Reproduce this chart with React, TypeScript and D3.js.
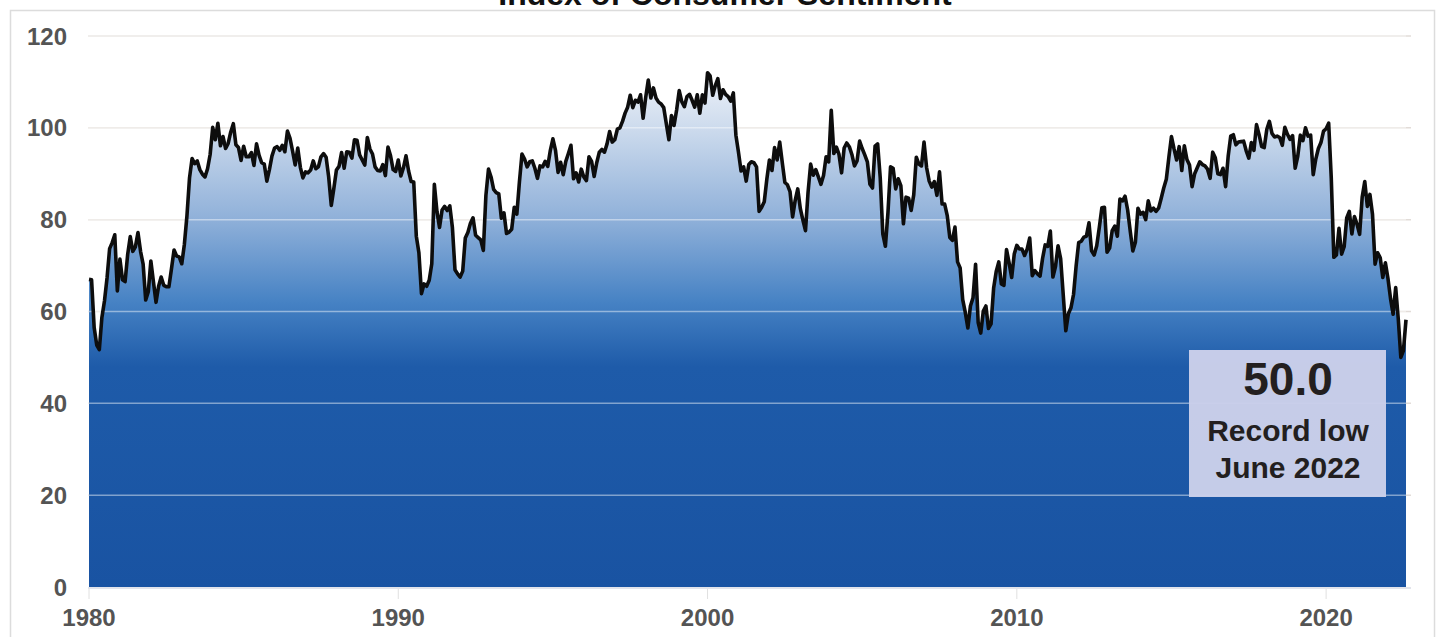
import { useEffect, useRef } from "react";
import * as d3 from "d3";

// Monthly index values, Jan of the first year through the last month shown
const sent1980s = [
  67.0, 66.9, 56.5, 52.7, 51.7, 58.7, 62.3, 67.3, 73.7, 75.0, 76.7, 64.5,
  71.4, 66.9, 66.5, 72.4, 76.3, 73.1, 74.1, 77.2, 73.1, 70.3, 62.5, 64.3,
  71.0, 66.5, 62.0, 65.5, 67.5, 65.7, 65.4, 65.4, 69.3, 73.4, 72.1, 71.9,
  70.4, 74.6, 80.8, 89.1, 93.3, 92.2, 92.8, 90.9, 89.9, 89.3, 91.1, 94.2,
  100.1, 97.4, 101.0, 96.1, 98.1, 95.5, 96.6, 99.1, 100.9, 96.3, 95.7, 92.9,
  96.0, 93.7, 93.7, 94.6, 91.8, 96.5, 94.0, 92.4, 92.1, 88.4, 90.9, 93.9,
  95.6, 95.9, 95.1, 96.2, 94.8, 99.3, 97.7, 94.9, 91.9, 95.6, 91.4, 89.1,
  90.4, 90.2, 90.8, 92.8, 91.1, 91.5, 93.7, 94.4, 93.6, 89.3, 83.1, 86.8,
  90.8, 91.6, 94.6, 91.2, 94.8, 94.7, 93.4, 97.4, 97.3, 94.1, 93.0, 91.9,
  97.9, 95.4, 94.3, 91.5, 90.7, 90.6, 92.0, 89.6, 95.8, 93.9, 90.9, 90.5,
];
const sent1990s = [
  93.0, 89.5, 91.3, 93.9, 90.6, 88.3, 88.2, 76.4, 72.8, 63.9, 66.0, 65.5,
  66.8, 70.4, 87.7, 81.8, 78.3, 82.1, 82.9, 82.0, 83.0, 78.3, 69.1, 68.2,
  67.5, 68.8, 76.0, 77.2, 79.2, 80.4, 76.6, 76.1, 75.6, 73.3, 85.3, 91.0,
  89.3, 86.6, 85.9, 85.6, 80.3, 81.5, 77.0, 77.3, 77.9, 82.7, 81.2, 88.2,
  94.3, 93.2, 91.5, 92.6, 92.8, 91.2, 89.0, 91.7, 91.5, 92.7, 91.6, 95.1,
  97.6, 95.1, 90.3, 92.5, 89.8, 92.7, 94.4, 96.2, 88.9, 90.2, 88.2, 91.0,
  89.3, 88.5, 93.7, 92.7, 89.4, 92.4, 94.7, 95.3, 94.7, 96.5, 99.2, 96.9,
  97.4, 99.7, 100.0, 101.4, 103.2, 104.5, 107.1, 104.4, 106.0, 105.6, 107.2, 102.1,
  106.6, 110.4, 106.5, 108.7, 106.5, 105.6, 105.2, 104.4, 100.9, 97.4, 102.7, 100.5,
  103.9, 108.1, 105.7, 104.6, 106.8, 107.3, 106.0, 104.5, 107.2, 103.2, 107.2, 105.4,
];
const sent2000s = [
  112.0, 111.3, 107.1, 109.2, 110.7, 106.4, 108.3, 107.3, 106.8, 105.8, 107.6, 98.4,
  94.7, 90.6, 91.5, 88.4, 92.0, 92.6, 92.4, 91.5, 81.8, 82.7, 83.9, 88.8,
  93.0, 90.7, 95.7, 93.0, 96.9, 92.4, 88.1, 87.6, 86.1, 80.6, 84.2, 86.7,
  82.4, 79.9, 77.6, 86.0, 92.1, 89.7, 90.9, 89.3, 87.7, 89.6, 93.7, 92.6,
  103.8, 94.4, 95.8, 94.2, 90.2, 95.6, 96.7, 95.9, 94.2, 91.7, 92.8, 97.1,
  95.5, 94.1, 92.6, 87.7, 86.9, 96.0, 96.5, 89.1, 76.9, 74.2, 81.6, 91.5,
  91.2, 86.7, 88.9, 87.4, 79.1, 84.9, 84.7, 82.0, 85.4, 93.6, 92.1, 91.7,
  96.9, 91.3, 88.4, 87.1, 88.3, 85.3, 90.4, 83.4, 83.4, 80.9, 76.1, 75.5,
  78.4, 70.8, 69.5, 62.6, 59.8, 56.4, 61.2, 63.0, 70.3, 57.6, 55.3, 60.1,
  61.2, 56.3, 57.3, 65.1, 68.7, 70.8, 66.0, 65.7, 73.5, 70.6, 67.4, 72.5,
];
const sent2010s = [
  74.4, 73.6, 73.6, 72.2, 73.6, 76.0, 67.8, 68.9, 68.2, 67.7, 71.6, 74.5,
  74.2, 77.5, 67.5, 69.8, 74.3, 71.5, 63.7, 55.8, 59.5, 60.8, 63.7, 69.9,
  75.0, 75.3, 76.2, 76.4, 79.3, 73.2, 72.3, 74.3, 78.3, 82.6, 82.7, 72.9,
  73.8, 77.6, 78.6, 76.4, 84.5, 84.1, 85.1, 82.1, 77.5, 73.2, 75.1, 82.5,
  81.2, 81.6, 80.0, 84.1, 81.9, 82.5, 81.8, 82.5, 84.6, 86.9, 88.8, 93.6,
  98.1, 95.4, 93.0, 95.9, 90.7, 96.1, 93.1, 91.9, 87.2, 90.0, 91.3, 92.6,
  92.0, 91.7, 91.0, 89.0, 94.7, 93.5, 90.0, 89.8, 91.2, 87.2, 93.8, 98.2,
  98.5, 96.3, 96.9, 97.0, 97.1, 95.0, 93.4, 96.8, 95.1, 100.7, 98.5, 95.9,
  95.7, 99.7, 101.4, 98.8, 98.0, 98.2, 97.9, 96.2, 100.1, 98.6, 97.5, 98.3,
  91.2, 93.8, 98.4, 97.2, 100.0, 98.2, 98.4, 89.8, 93.2, 95.5, 96.8, 99.3,
];
const sent2020s = [
  99.8, 101.0, 89.1, 71.8, 72.3, 78.1, 72.5, 74.1, 80.4, 81.8, 76.9, 80.7,
  79.0, 76.8, 84.9, 88.3, 82.9, 85.5, 81.2, 70.3, 72.8, 71.7, 67.4, 70.6,
  67.2, 62.8, 59.4, 65.2, 58.4, 50.0, 51.5, 58.2,
];

const startYear = 1980;
const yTicks = [0, 20, 40, 60, 80, 100, 120];
const xTicks = [1980, 1990, 2000, 2010, 2020];
const title = "Index of Consumer Sentiment";
const noteValue = "50.0";
const noteLines = ["Record low", "June 2022"];

const W = 1439;
const H = 637;

export default function App() {
  const svgRef = useRef<SVGSVGElement>(null);

  useEffect(() => {
    if (!svgRef.current) return;
    const svg = d3.select(svgRef.current);
    svg.selectAll("*").remove();

    const values = [...sent1980s, ...sent1990s, ...sent2000s, ...sent2010s, ...sent2020s];
    const data = values.map((v, i) => ({ t: startYear + i / 12, v }));
    const lastT = data[data.length - 1].t;

    const x = d3.scaleLinear().domain([startYear, lastT]).range([89, 1406]);
    const y = d3.scaleLinear().domain([0, 120]).range([587, 36]);
    const gridX0 = 88;
    const gridX1 = 1411;

    const font = "'Liberation Sans', Arial, sans-serif";

    // outer frame
    svg.append("rect")
      .attr("x", 10.5).attr("y", 10.5)
      .attr("width", 1424).attr("height", 640)
      .attr("fill", "#fff")
      .attr("stroke", "#dcdcdc")
      .attr("stroke-width", 1.5);

    // title (cut by the top edge like the source)
    svg.append("text")
      .attr("x", 725).attr("y", 5)
      .attr("text-anchor", "middle")
      .attr("font-family", font)
      .attr("font-weight", "bold")
      .attr("font-size", 32)
      .attr("fill", "#111")
      .text(title);

    // gridlines under the fill
    svg.append("g")
      .selectAll("line")
      .data(yTicks.filter(d => d > 0))
      .join("line")
      .attr("x1", gridX0).attr("x2", gridX1)
      .attr("y1", d => y(d)).attr("y2", d => y(d))
      .attr("stroke", "#e2dcd8")
      .attr("stroke-width", 1.5);

    // gradient fill
    const defs = svg.append("defs");
    const grad = defs.append("linearGradient")
      .attr("id", "areaGrad")
      .attr("gradientUnits", "userSpaceOnUse")
      .attr("x1", 0).attr("x2", 0)
      .attr("y1", y(112)).attr("y2", y(0));
    const stops: [number, string][] = [
      [112, "#eef2f9"],
      [100, "#cddbed"],
      [80, "#8fb0d9"],
      [62, "#4682c4"],
      [48, "#1e5ba9"],
      [0, "#1953a2"],
    ];
    for (const [val, col] of stops) {
      grad.append("stop")
        .attr("offset", (y(val) - y(112)) / (y(0) - y(112)))
        .attr("stop-color", col);
    }

    const area = d3.area<{ t: number; v: number }>()
      .x(d => x(d.t))
      .y0(y(0))
      .y1(d => y(d.v));

    svg.append("path")
      .datum(data)
      .attr("fill", "url(#areaGrad)")
      .attr("d", area);

    // gridlines over the fill
    svg.append("g")
      .selectAll("line")
      .data(yTicks.filter(d => d > 0))
      .join("line")
      .attr("x1", gridX0).attr("x2", x(lastT))
      .attr("y1", d => y(d)).attr("y2", d => y(d))
      .attr("stroke", "#ffffff")
      .attr("stroke-opacity", 0.45)
      .attr("stroke-width", 1.5);

    // baseline and ticks
    svg.append("line")
      .attr("x1", gridX0).attr("x2", gridX1)
      .attr("y1", y(0) + 1).attr("y2", y(0) + 1)
      .attr("stroke", "#d8dbe4")
      .attr("stroke-width", 1.5);
    svg.append("g")
      .selectAll("line")
      .data(xTicks)
      .join("line")
      .attr("x1", d => x(d)).attr("x2", d => x(d))
      .attr("y1", y(0) + 2).attr("y2", y(0) + 12)
      .attr("stroke", "#e0e0e0")
      .attr("stroke-width", 1);

    // line
    const line = d3.line<{ t: number; v: number }>()
      .x(d => x(d.t))
      .y(d => y(d.v));

    svg.append("path")
      .datum(data)
      .attr("fill", "none")
      .attr("stroke", "#0d0d0d")
      .attr("stroke-width", 3.6)
      .attr("stroke-linejoin", "round")
      .attr("d", line);

    // y labels
    svg.append("g")
      .selectAll("text")
      .data(yTicks)
      .join("text")
      .attr("x", 67)
      .attr("y", d => y(d) + 8.5)
      .attr("text-anchor", "end")
      .attr("font-family", font)
      .attr("font-weight", "bold")
      .attr("font-size", 24)
      .attr("fill", "#545454")
      .text(d => d);

    // x labels
    svg.append("g")
      .selectAll("text")
      .data(xTicks)
      .join("text")
      .attr("x", d => x(d))
      .attr("y", 626)
      .attr("text-anchor", "middle")
      .attr("font-family", font)
      .attr("font-weight", "bold")
      .attr("font-size", 24)
      .attr("fill", "#545454")
      .text(d => d);

    // annotation box
    const note = svg.append("g");
    note.append("rect")
      .attr("x", 1189).attr("y", 350)
      .attr("width", 197).attr("height", 147)
      .attr("fill", "#cbd0ea")
      .attr("fill-opacity", 0.97);
    note.append("text")
      .attr("x", 1288).attr("y", 395)
      .attr("text-anchor", "middle")
      .attr("font-family", font)
      .attr("font-weight", "bold")
      .attr("font-size", 46)
      .attr("fill", "#231f20")
      .text(noteValue);
    noteLines.forEach((s, i) => {
      note.append("text")
        .attr("x", 1288).attr("y", 441 + i * 37)
        .attr("text-anchor", "middle")
        .attr("font-family", font)
        .attr("font-weight", "bold")
        .attr("font-size", 30)
        .attr("fill", "#231f20")
        .text(s);
    });
  }, []);

  return (
    <svg
      ref={svgRef}
      width={W}
      height={H}
      style={{ position: "absolute", left: 0, top: 0, display: "block", background: "#fff" }}
    />
  );
}
